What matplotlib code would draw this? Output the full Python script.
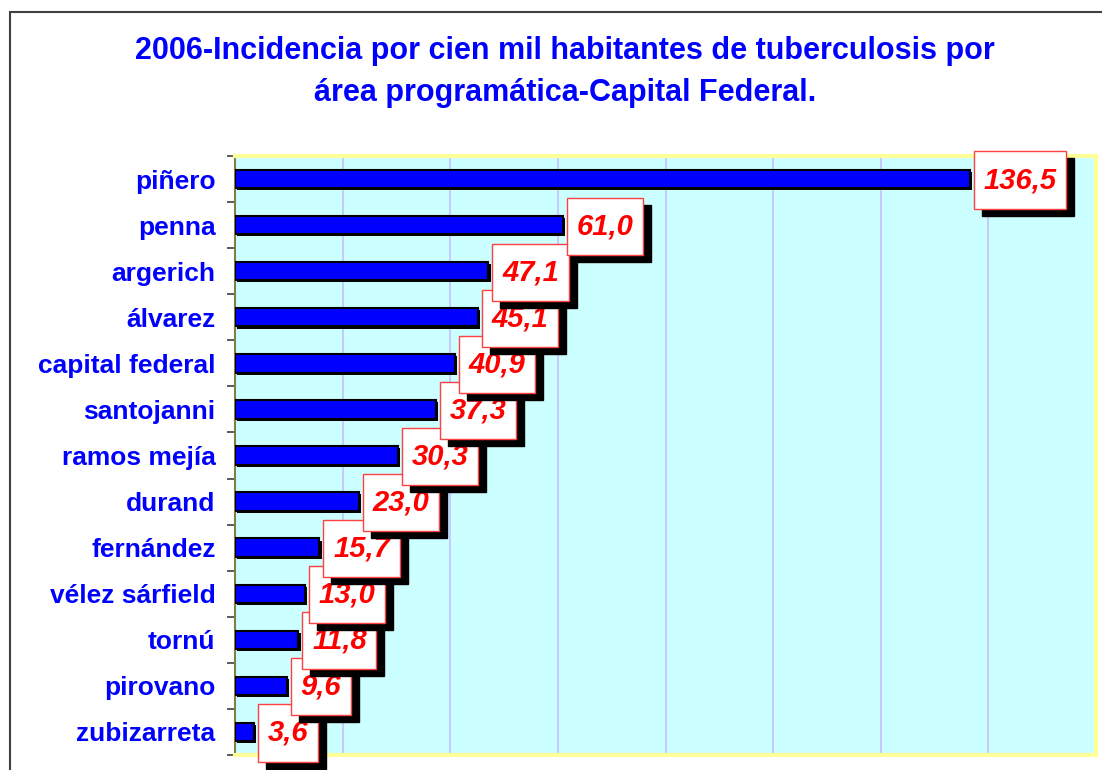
import numpy as np
import matplotlib
matplotlib.use('Agg')
import matplotlib.pyplot as plt
import matplotlib.patheffects as pe
from matplotlib.patches import Rectangle
from matplotlib.path import Path

# data (top to bottom)
areas = ['piñero', 'penna', 'argerich', 'álvarez', 'capital federal', 'santojanni',
         'ramos mejía', 'durand', 'fernández', 'vélez sárfield', 'tornú', 'pirovano',
         'zubizarreta']
incidence = [136.5, 61.0, 47.1, 45.1, 40.9, 37.3, 30.3, 23.0, 15.7, 13.0, 11.8, 9.6, 3.6]
title = ('2006-Incidencia por cien mil habitantes de tuberculosis por\n'
         'área programática-Capital Federal.')

plt.rcParams['font.family'] = ['Liberation Sans', 'DejaVu Sans']

PAD_X, PAD_Y = 0.33, 0.5


def label_box(x0, y0, width, height, mutation_size):
    # square box with more room above/below the text than at the sides
    px, py = PAD_X * mutation_size, PAD_Y * mutation_size
    x0, y0 = x0 - px, y0 - py
    x1, y1 = x0 + width + 2 * px, y0 + height + 2 * py
    return Path([(x0, y0), (x1, y0), (x1, y1), (x0, y1), (x0, y0)], closed=True)


fig = plt.figure(figsize=(11.02, 7.7), dpi=100)
ax = fig.add_axes([235 / 1102, 15 / 770, (1096 - 235) / 1102, (755 - 156) / 770])

# outer chart frame (runs off the right and bottom edges)
fig.patches.append(Rectangle((10 / 1102, -0.1), 1.2, 1 - 12 / 770 + 0.1,
                             transform=fig.transFigure, fill=False,
                             edgecolor='#404040', linewidth=1.5))

fig.text(565 / 1102, 1 - 72 / 770, title, ha='center', va='center',
         fontsize=22, fontweight='bold', color='#0000FF', linespacing=1.55)

y = np.arange(len(areas))
ax.set_facecolor('#CCFFFF')
ax.barh(y, incidence, height=0.4, color='#0000FF', edgecolor='black', linewidth=1.5,
        zorder=3,
        path_effects=[pe.SimplePatchShadow(offset=(1.5, -1.5), shadow_rgbFace='black', alpha=1),
                      pe.Normal()])

ax.set_xlim(0, 160)
ax.set_ylim(len(areas) - 0.5, -0.5)
ax.set_xticks(np.arange(20, 160, 20))
ax.tick_params(axis='x', length=0, labelbottom=False)
ax.grid(axis='x', color='#C8C0FF', linewidth=1.2, zorder=0)
ax.set_axisbelow(True)

ax.set_yticks(y)
ax.set_yticklabels(areas, fontsize=19, fontweight='bold', color='#0000FF')
ax.set_yticks(np.arange(-0.5, len(areas)), minor=True)
ax.tick_params(axis='y', which='major', length=0, pad=14)
ax.tick_params(axis='y', which='minor', length=6, width=1.2, color='#404040')

for side in ['top', 'bottom', 'right']:
    ax.spines[side].set_color('#FFFF99')
    ax.spines[side].set_linewidth(3)
ax.spines['left'].set_color('#808040')
ax.spines['left'].set_linewidth(1.5)

# value labels: upper rows drawn on top of lower ones
lab_fs = 21
x0 = 4 + PAD_X * lab_fs * 100 / 72
for i in range(len(areas) - 1, -1, -1):
    txt = f'{incidence[i]:.1f}'.replace('.', ',')
    z = 10 + 2 * (len(areas) - i)
    ax.annotate(txt, xy=(incidence[i], y[i]), xytext=(x0 + 8, -8), textcoords='offset pixels',
                ha='left', va='center', fontsize=lab_fs, fontweight='bold', style='italic',
                color='black', zorder=z, annotation_clip=False,
                bbox=dict(boxstyle=label_box, fc='black', ec='black', lw=1))
    ax.annotate(txt, xy=(incidence[i], y[i]), xytext=(x0, -1), textcoords='offset pixels',
                ha='left', va='center', fontsize=lab_fs, fontweight='bold', style='italic',
                color='#FF0000', zorder=z + 1, annotation_clip=False,
                bbox=dict(boxstyle=label_box, fc='white', ec='#FF4040', lw=1))

fig.savefig('out.png', dpi=100)
